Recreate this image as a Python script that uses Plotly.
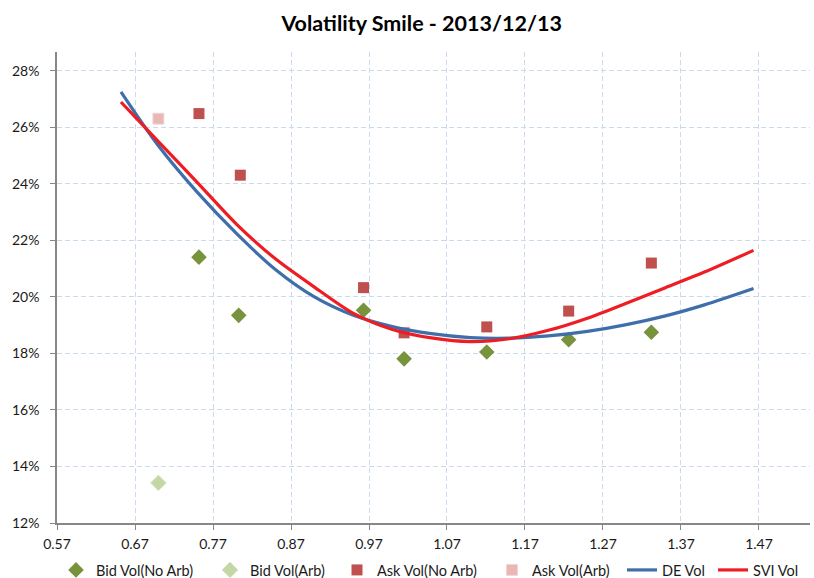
import plotly.graph_objects as go

# ---- data ----
bid_noarb_x = [0.752, 0.803, 0.963, 1.015, 1.121, 1.226, 1.332]
bid_noarb_y = [0.2141, 0.1935, 0.1953, 0.1781, 0.1805, 0.1849, 0.1875]

bid_arb_x = [0.700]
bid_arb_y = [0.1342]

ask_noarb_x = [0.752, 0.805, 0.963, 1.015, 1.121, 1.226, 1.332]
ask_noarb_y = [0.2649, 0.2431, 0.2033, 0.1873, 0.1894, 0.1950, 0.2120]

ask_arb_x = [0.700]
ask_arb_y = [0.2631]

de_x = [0.652, 0.70, 0.75, 0.80, 0.85, 0.90, 0.95, 1.00, 1.05, 1.10, 1.15, 1.20, 1.25, 1.30, 1.35, 1.40, 1.463]
de_y = [0.2726, 0.2535, 0.2370, 0.2225, 0.2097, 0.2000, 0.1935, 0.1895, 0.1870, 0.1856, 0.1854, 0.1862, 0.1878, 0.1902, 0.1933, 0.1972, 0.2030]

svi_x = [0.652, 0.70, 0.75, 0.80, 0.85, 0.90, 0.95, 1.00, 1.05, 1.10, 1.15, 1.20, 1.25, 1.30, 1.35, 1.40, 1.463]
svi_y = [0.2690, 0.2550, 0.2405, 0.2258, 0.2135, 0.2035, 0.1942, 0.1885, 0.1855, 0.1842, 0.1852, 0.1882, 0.1925, 0.1978, 0.2033, 0.2088, 0.2165]

x_range = [0.57, 1.5354]
y_range = [0.12, 0.2867]

FONT = "Lato, 'Open Sans', sans-serif"
W, H = 814, 578

# legend item centres (px)
legend_px = [76, 230, 357, 512, 642, 733]
LEG_OFF = 20

fig = go.Figure()
fig.add_trace(go.Scatter(x=bid_noarb_x, y=bid_noarb_y, mode="markers", name="Bid Vol(No Arb)",
                         legend="legend",
                         marker=dict(symbol="diamond", size=12, color="#77933C")))
fig.add_trace(go.Scatter(x=bid_arb_x, y=bid_arb_y, mode="markers", name="Bid Vol(Arb)",
                         legend="legend2",
                         marker=dict(symbol="diamond", size=12, color="#C4D6A4",
                                     line=dict(color="#D7E4C4", width=1))))
fig.add_trace(go.Scatter(x=ask_noarb_x, y=ask_noarb_y, mode="markers", name="Ask Vol(No Arb)",
                         legend="legend3",
                         marker=dict(symbol="square", size=11, color="#C0504D")))
fig.add_trace(go.Scatter(x=ask_arb_x, y=ask_arb_y, mode="markers", name="Ask Vol(Arb)",
                         legend="legend4",
                         marker=dict(symbol="square", size=11, color="#E8B8B6",
                                     line=dict(color="#F2D6D5", width=1))))
fig.add_trace(go.Scatter(x=de_x, y=de_y, mode="lines", name="DE Vol",
                         legend="legend5",
                         line=dict(color="#3E6FAA", width=3.2, shape="spline", smoothing=0.8)))
fig.add_trace(go.Scatter(x=svi_x, y=svi_y, mode="lines", name="SVI Vol",
                         legend="legend6",
                         line=dict(color="#EE1D23", width=3.2, shape="spline", smoothing=0.8)))

leg_common = dict(orientation="h", xref="container", yref="container", xanchor="left",
                  y=1 - 570 / H, yanchor="middle", font=dict(family=FONT, size=14.5, color="#1a1a1a"),
                  bgcolor="rgba(0,0,0,0)", borderwidth=0)
legends = {}
for i, px in enumerate(legend_px):
    key = "legend" if i == 0 else f"legend{i+1}"
    legends[key] = dict(leg_common, x=(px - LEG_OFF) / W)

fig.update_layout(
    width=W, height=H,
    margin=dict(l=57, r=4, t=52, b=55, autoexpand=False),
    paper_bgcolor="white", plot_bgcolor="white",
    font=dict(family=FONT, size=14, color="#1a1a1a"),
    title=dict(text="<b>Volatility Smile - 2013/12/13</b>", x=0.518, xanchor="center",
               y=0.960, yanchor="middle", font=dict(family=FONT, size=21.5, color="black")),
    showlegend=True,
    **legends,
)
fig.update_xaxes(range=x_range, tick0=0.57, dtick=0.1, tickformat=".2f", automargin=False,
                 showline=True, linecolor="#878787", linewidth=1.5,
                 ticks="outside", ticklen=5, tickcolor="#878787", ticklabelstandoff=2,
                 showgrid=True, gridcolor="#C9D9EE", griddash="5px,3px", gridwidth=1,
                 zeroline=False, tickfont=dict(size=14))
fig.update_yaxes(range=y_range, tick0=0.12, dtick=0.02, tickformat=".0%", automargin=False,
                 showline=True, linecolor="#878787", linewidth=1.5,
                 ticks="outside", ticklen=5, tickcolor="#878787", ticklabelstandoff=8,
                 showgrid=True, gridcolor="#C9D9EE", griddash="5px,3px", gridwidth=1,
                 zeroline=False, tickfont=dict(size=14))

fig.write_html("out.html",
               config={"displayModeBar": False},
               post_script="document.body.style.margin='0';document.body.style.overflow='hidden';")
